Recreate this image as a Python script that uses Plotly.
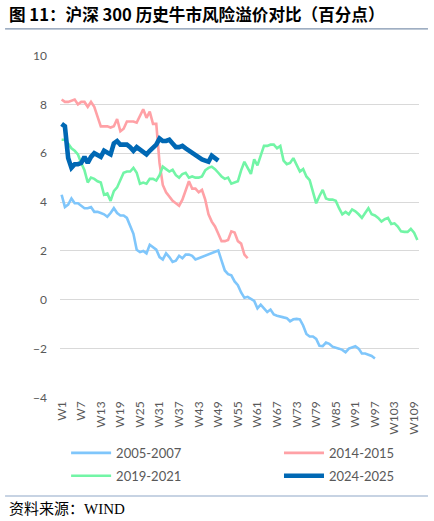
import plotly.graph_objects as go

# weekly risk premium, percentage points
weeks = [f"W{i}" for i in range(1, 111)]
tick_weeks = [f"W{i}" for i in range(1, 111, 6)]

bull_2005_2007 = [
    4.3, 3.8, 3.9, 4.15, 3.95, 3.95, 3.85, 3.75, 3.75, 3.8,
    3.6, 3.6, 3.55, 3.5, 3.4, 3.55, 3.75, 3.55, 3.45, 3.45,
    3.35, 3.0, 2.7, 2.05, 1.95, 2.0, 1.9, 2.25, 2.15, 2.05,
    1.75, 1.65, 1.9, 1.75, 1.55, 1.6, 1.8, 1.7, 1.85, 1.85,
    1.8, 1.65, 1.7, 1.75, 1.8, 1.85, 1.9, 1.95, 2.02, 1.6,
    1.2, 1.05, 1.0, 0.75, 0.6, 0.3, 0.08, 0.12, 0.05, -0.05,
    -0.35, -0.2, -0.35, -0.5, -0.4, -0.6, -0.65, -0.7, -0.72, -0.75,
    -0.88, -0.8, -0.78, -0.8, -1.05, -1.4, -1.5, -1.5, -1.6, -1.88,
    -1.9, -1.75, -1.8, -1.92, -1.95, -2.0, -2.05, -2.15, -2.0, -1.95,
    -1.9, -2.0, -2.2, -2.2, -2.25, -2.3, -2.4,
]

bull_2014_2015 = [
    8.2, 8.1, 8.1, 8.15, 8.2, 8.0, 8.1, 8.1, 7.9, 8.1,
    7.9, 7.5, 7.1, 7.1, 7.1, 7.05, 7.1, 7.4, 6.9, 7.0,
    7.3, 7.3, 7.3, 7.25, 7.55, 7.8, 7.45, 7.7, 7.2, 7.2,
    5.6, 4.7, 4.4, 4.2, 4.05, 3.95, 3.85, 4.1, 4.5, 4.85,
    4.55, 4.55, 4.4, 4.5, 4.1, 3.5, 3.2, 3.0, 2.7, 2.4,
    2.4, 2.45, 2.8, 2.75, 2.4, 2.3, 1.85, 1.7,
]

bull_2019_2021 = [
    6.55, 6.55, 6.4, 6.2, 6.1, 5.95, 5.6, 5.3, 4.8, 5.0,
    4.95, 4.85, 4.8, 4.3, 4.35, 4.05, 4.45, 4.6, 4.9, 5.2,
    5.25, 5.25, 5.4, 5.2, 4.75, 4.8, 4.75, 4.95, 4.95, 4.88,
    5.1, 5.45, 5.35, 5.25, 5.32, 5.1, 5.0, 5.15, 5.2, 5.0,
    5.05, 5.0, 5.0, 5.05, 5.3, 5.4, 5.45, 5.35, 5.2, 5.05,
    4.95, 5.0, 4.75, 4.8, 4.85, 5.3, 5.65, 5.4, 5.15, 5.75,
    5.5, 5.9, 6.3, 6.3, 6.35, 6.35, 6.2, 6.3, 5.7, 5.55,
    5.6, 5.8, 5.5, 5.25, 5.35, 5.05, 4.9, 4.4, 3.95, 4.25,
    4.5, 4.15, 4.1, 4.1, 4.05, 3.75, 3.5, 3.6, 3.5, 3.7,
    3.62, 3.5, 3.35, 3.55, 3.75, 3.5, 3.45, 3.35, 3.2, 3.3,
    3.35, 3.1, 3.13, 3.0, 2.8, 2.78, 2.78, 2.9, 2.75, 2.45,
]

bull_2024_2025 = [
    7.2, 7.1, 5.8, 5.4, 5.55, 5.55, 5.6, 5.85, 5.6, 5.85,
    6.0, 5.95, 5.85, 6.1, 6.05, 5.95, 6.4, 6.5, 6.35, 6.35,
    6.35, 6.25, 6.1, 6.25, 6.15, 6.0, 5.95, 6.1, 6.25, 6.35,
    6.6, 6.5, 6.5, 6.55, 6.4, 6.25, 6.25, 6.3, 6.2, 6.1,
    6.0, 5.9, 5.85, 5.75, 5.7, 5.65, 5.9, 5.8, 5.7,
]

# name, values, colour, width, legend slot
series = [
    ("2005-2007", bull_2005_2007, "#7FC6FB", 2.6, "legend"),
    ("2014-2015", bull_2014_2015, "#FFA1A6", 2.6, "legend2"),
    ("2019-2021", bull_2019_2021, "#72F5A6", 2.6, "legend3"),
    ("2024-2025", bull_2024_2025, "#0068B4", 4.6, "legend4"),
]

fig = go.Figure()
for name, vals, color, width, leg in series:
    fig.add_trace(go.Scatter(
        x=weeks[:len(vals)], y=vals, name=name, mode="lines",
        line=dict(color=color, width=width), legend=leg,
    ))

tick_font = dict(family="Lato, Liberation Sans, sans-serif", size=12, color="#595959")
leg_font = dict(family="Lato, Liberation Sans, sans-serif", size=13, color="#595959")

fig.update_xaxes(
    type="category", categoryorder="array", categoryarray=weeks,
    range=[-0.5, 109.5], tickmode="array", tickvals=tick_weeks,
    ticktext=tick_weeks, tickangle=-90, tickfont=tick_font,
    showgrid=False, showline=False, zeroline=False, ticks="",
    automargin=False,
)
fig.update_yaxes(
    range=[-4.02, 10.02], tickvals=list(range(-4, 11, 2)),
    tickfont=tick_font, gridcolor="#D9D9D9", gridwidth=1,
    zeroline=False, showline=False, ticks="", ticklabelstandoff=12,
    automargin=False,
)

# header and footer rules (paper coords from pixel positions)
fig.add_shape(type="line", xref="paper", yref="paper",
              x0=-0.153, x1=1.025, y0=1.076, y1=1.076,
              line=dict(color="#7F93AE", width=1.2))
fig.add_shape(type="line", xref="paper", yref="paper",
              x0=-0.153, x1=1.025, y0=-0.286, y1=-0.286,
              line=dict(color="#B4C4DA", width=1.5))

fig.add_annotation(
    text="<b>图 11：沪深 300 历史牛市风险溢价对比（百分点）</b>",
    xref="paper", yref="paper", x=-0.147, y=1.1195,
    xanchor="left", yanchor="middle", showarrow=False,
    font=dict(family="Noto Sans CJK SC", size=16.6, color="#000000"),
)
fig.add_annotation(
    text="资料来源：WIND",
    xref="paper", yref="paper", x=-0.147, y=-0.3236,
    xanchor="left", yanchor="middle", showarrow=False,
    font=dict(family="Liberation Serif, Noto Sans CJK SC", size=15, color="#000000"),
)

leg_common = dict(xanchor="left", yanchor="middle", font=leg_font,
                  bgcolor="rgba(0,0,0,0)", itemwidth=40)
fig.update_layout(
    width=434, height=521,
    margin=dict(l=60, r=15, t=55, b=123, autoexpand=False),
    paper_bgcolor="white", plot_bgcolor="white",
    showlegend=True,
    legend=dict(x=0.017, y=-0.160, **leg_common),
    legend2=dict(x=0.61, y=-0.160, **leg_common),
    legend3=dict(x=0.017, y=-0.227, **leg_common),
    legend4=dict(x=0.61, y=-0.227, **leg_common),
)

# drop the default 8px page margin so the figure sits at the window corner
fig.write_html("out.html", config={"displayModeBar": False},
               post_script="document.body.style.margin='0';")
